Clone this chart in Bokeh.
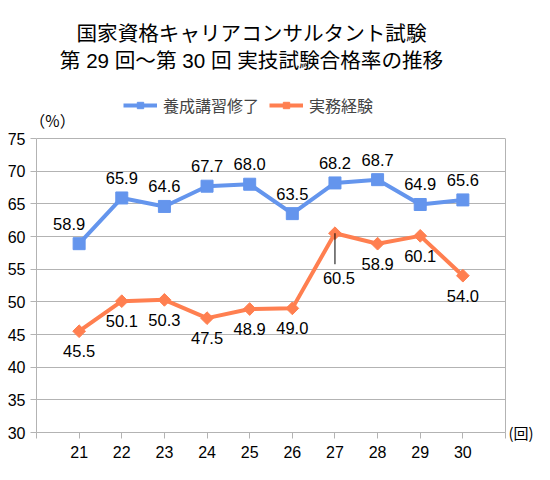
import math

from bokeh.core.properties import value
from bokeh.embed import file_html
from bokeh.models import ColumnDataSource, FixedTicker, Label, Legend, LegendItem, LinearAxis
from bokeh.plotting import figure
from bokeh.resources import INLINE

# データ(第21回〜第30回)
kai = [21, 22, 23, 24, 25, 26, 27, 28, 29, 30]
yousei = [58.9, 65.9, 64.6, 67.7, 68.0, 63.5, 68.2, 68.7, 64.9, 65.6]  # 養成講習修了
jitsumu = [45.5, 50.1, 50.3, 47.5, 48.9, 49.0, 60.5, 58.9, 60.1, 54.0]  # 実務経験
y_ticks = [30, 35, 40, 45, 50, 55, 60, 65, 70, 75]

title_1 = "国家資格キャリアコンサルタント試験"
title_2 = "第 29 回～第 30 回 実技試験合格率の推移"

BLUE = "#6495ED"
ORANGE = "#FF7F50"
GRID = "#b3b3b3"
JP = "Noto Sans CJK JP"
NUM = "Liberation Sans"

# グラフ本体 (30〜75) は 469x294 px、その上にタイトルと凡例の余白を枠内に取る
FW, PH, HEAD = 469, 294, 130
x0, x1 = kai[0] - 1, kai[-1] + 1
y0, y1 = y_ticks[0], y_ticks[-1]
px_x = FW / (x1 - x0)
px_y = PH / (y1 - y0)
y_top = y1 + HEAD / px_y

p = figure(frame_width=FW, frame_height=PH + HEAD, x_range=(x0, x1), y_range=(y0, y_top),
           min_border_left=36, min_border_right=40, min_border_top=8, min_border_bottom=40,
           output_backend="svg", toolbar_location=None)
p.background_fill_color = "white"
p.border_fill_color = "white"
p.outline_line_color = None

# 軸
p.xaxis.ticker = FixedTicker(ticks=list(range(x0, x1 + 1)))
p.xaxis.major_label_overrides = {x0: "", x1: ""}
p.yaxis.ticker = FixedTicker(ticks=y_ticks)
p.yaxis.bounds = (y0, y1)
for ax in (p.xaxis, p.yaxis):
    ax.axis_line_color = GRID
    ax.major_tick_line_color = GRID
    ax.major_tick_in = 0
    ax.major_tick_out = 6
    ax.minor_tick_line_color = None
    ax.major_label_text_font = NUM
    ax.major_label_text_font_size = "16px"
    ax.major_label_text_color = "black"
p.xaxis.major_label_standoff = 7
p.yaxis.major_label_standoff = 5
p.xgrid.grid_line_color = None
p.ygrid.grid_line_color = GRID
p.ygrid.ticker = FixedTicker(ticks=y_ticks)

# 右側の枠線と単位 (回)
unit_ax = LinearAxis(ticker=FixedTicker(ticks=[y0]), major_label_overrides={y0: "(回)"},
                     bounds=(y0, y1), axis_line_color=GRID, major_tick_line_color=None,
                     major_tick_in=0, major_tick_out=0, minor_tick_line_color=None,
                     major_label_standoff=3, major_label_text_font=JP,
                     major_label_text_font_size="15px", major_label_text_color="black")
p.add_layout(unit_ax, "right")

# 系列
src_b = ColumnDataSource(data=dict(x=kai, y=yousei, t=[f"{v:.1f}" for v in yousei],
                                   dx=[-10] + [0] * 9, dy=[-20] * 10))
dy_o = [20] * 10
dy_o[6] = 45
dx_o = [0] * 10
dx_o[6] = 4
src_o = ColumnDataSource(data=dict(x=kai, y=jitsumu, t=[f"{v:.1f}" for v in jitsumu],
                                   dx=dx_o, dy=dy_o))

lb = p.line("x", "y", source=src_b, color=BLUE, line_width=4)
mb = p.scatter("x", "y", source=src_b, marker="square", size=12, color=BLUE)
lo = p.line("x", "y", source=src_o, color=ORANGE, line_width=4)
mo = p.scatter("x", "y", source=src_o, marker="square", angle=math.pi / 4, size=9, color=ORANGE)

# 第27回のラベルの引き出し線
p.segment(x0=[kai[6]], y0=[jitsumu[6]], x1=[kai[6]], y1=[jitsumu[6] - 31 / px_y],
          line_color="black", line_width=1)

for src in (src_b, src_o):
    p.text("x", "y", text="t", source=src, x_offset="dx", y_offset="dy",
           text_align="center", text_baseline="middle", text_color="black",
           text_font=value(NUM), text_font_size="16.5px")

# タイトル (2行)
xc = x0 + (251 - 36) / px_x
p.add_layout(Label(x=xc, y=y1 + 106.5 / px_y, text=title_1, text_align="center",
                   text_baseline="middle", text_font=JP, text_font_size="20.6px",
                   text_color="black"))
p.add_layout(Label(x=xc, y=y1 + 78.5 / px_y, text=title_2, text_align="center",
                   text_baseline="middle", text_font=f"{NUM}, {JP}", text_font_size="20.6px",
                   text_color="black"))

# 単位 (%)
p.add_layout(Label(x=x0 + 16 / px_x, y=y1 + 19 / px_y, text="（%）", text_align="center",
                   text_baseline="middle", text_font=JP, text_font_size="15.5px", text_color="black"))

legend = Legend(items=[LegendItem(label="養成講習修了", renderers=[lb, mb]),
                       LegendItem(label="実務経験", renderers=[lo, mo])],
                orientation="horizontal", location=(87, PH + 21),
                border_line_color=None, background_fill_alpha=0, padding=0, margin=0,
                spacing=10, label_standoff=6, glyph_width=34, glyph_height=16,
                label_text_font=JP, label_text_font_size="16px")
p.add_layout(legend)

open("out.html", "w").write(file_html(p, INLINE))
